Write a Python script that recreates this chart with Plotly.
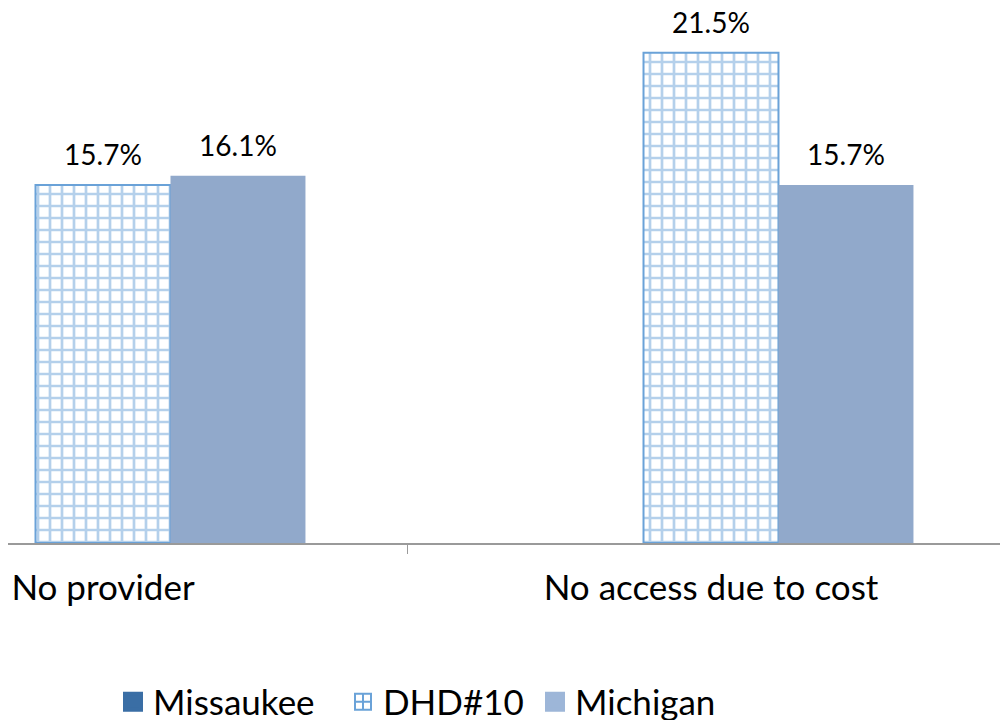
import plotly.graph_objects as go

categories = ["No provider", "No access due to cost"]
series_names = ["Missaukee", "DHD#10", "Michigan"]
missaukee = [None, None]
dhd10 = [15.7, 21.5]
michigan = [16.1, 15.7]

FONT = "Lato"
BLUE_DARK = "#3A6EA5"
GRID_BLUE = "#6AA2D8"
MICH = "#91A9CB"

series_values = [missaukee, dhd10, michigan]
bar_markers = [
    dict(color=BLUE_DARK, line=dict(width=0)),
    dict(color="#FFFFFF", line=dict(color=GRID_BLUE, width=2),
         pattern=dict(shape="+", fgcolor=GRID_BLUE, bgcolor="#FFFFFF",
                      size=12, solidity=0.4, fillmode="overlay")),
    dict(color=MICH, line=dict(width=0)),
]

fig = go.Figure()
for i, (name, vals, mk) in enumerate(zip(series_names, series_values, bar_markers)):
    fig.add_trace(go.Bar(
        name=name, x=categories, y=vals, showlegend=False,
        offsetgroup=str(i), marker=mk,
    ))

# value labels, aligned with the grouped bars
for i, (name, vals) in enumerate(zip(series_names, series_values)):
    fig.add_trace(go.Scatter(
        name=name + " label", x=categories, y=vals, mode="markers+text",
        offsetgroup=str(i), showlegend=False, hoverinfo="skip",
        marker=dict(size=19, color="rgba(0,0,0,0)"),
        text=[None if v is None else f"{v}%" for v in vals],
        textposition="top center",
        textfont=dict(size=28, color="#000000", family=FONT),
        cliponaxis=False,
    ))

# legend entries (legend-only markers), one small legend per series
legend_symbols = ["square", "square-cross-open", "square"]
legend_colors = [BLUE_DARK, GRID_BLUE, "#9DB6D8"]
legend_lw = [4, 2, 4]
legend_ids = ["legend", "legend2", "legend3"]
legend_x = [0.105, 0.335, 0.527]
for i, (name, sym, col, lw, lid) in enumerate(zip(series_names, legend_symbols, legend_colors, legend_lw, legend_ids)):
    fig.add_trace(go.Scatter(
        x=[None], y=[None], mode="markers", name=name, legend=lid, offsetgroup=str(i),
        marker=dict(symbol=sym, size=16, color=col, line=dict(color=col, width=lw)),
    ))

legend_common = dict(orientation="h", xanchor="left", yref="container", y=0.0253,
                     yanchor="middle", font=dict(size=35, family=FONT),
                     bgcolor="rgba(0,0,0,0)")
fig.update_layout(
    width=1000, height=712,
    margin=dict(l=0, r=0, t=0, b=177),
    paper_bgcolor="white", plot_bgcolor="white",
    barmode="group", bargap=0.334, bargroupgap=0,
    scattermode="group", scattergap=0.334,
    font=dict(family=FONT, color="#000000"),
    showlegend=True,
    legend=dict(x=legend_x[0], **legend_common),
    legend2=dict(x=legend_x[1], **legend_common),
    legend3=dict(x=legend_x[2], **legend_common),
)
fig.update_xaxes(
    range=[-0.15625, 1.4885], showgrid=False, showline=True, linecolor="#9A9A9A", linewidth=2,
    ticks="outside", tickson="boundaries", ticklen=9, tickcolor="#9A9A9A", tickwidth=1,
    tickfont=dict(size=35, family=FONT, color="#000000"), zeroline=False,
    ticklabelstandoff=13,
)
fig.update_yaxes(range=[0, 23.46], visible=False, showgrid=False, zeroline=False)

fig.write_html("out.html")
